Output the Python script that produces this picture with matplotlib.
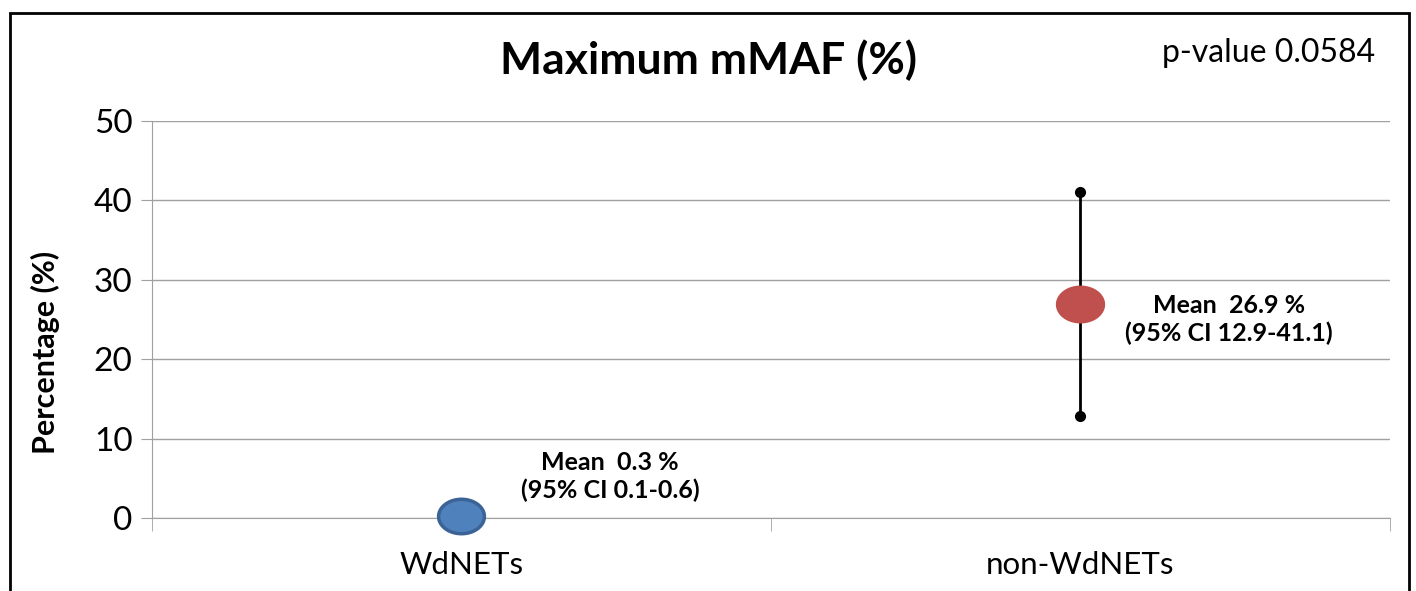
import matplotlib
matplotlib.use("Agg")
import matplotlib.pyplot as plt
import numpy as np
from matplotlib.path import Path
from matplotlib.patches import Rectangle

plt.rcParams['font.family'] = ['Lato', 'DejaVu Sans']

# data
groups = ['WdNETs', 'non-WdNETs']
means = [0.3, 26.9]
ci_low = [0.1, 12.9]
ci_high = [0.6, 41.1]
colors = ['#4f81bd', '#c0504d']
edges = ['#3b6396', '#c0504d']
notes = ['Mean  0.3 %\n(95% CI 0.1-0.6)', 'Mean  26.9 %\n(95% CI 12.9-41.1)']
pval = 'p-value 0.0584'

# ellipse marker (wider than tall)
t = np.linspace(0, 2 * np.pi, 60)
ellipse = Path(np.column_stack([1.33 * np.cos(t), np.sin(t)]), closed=True)

fig = plt.figure(figsize=(14.16, 5.91), dpi=100)
ax = fig.add_axes([0.1073, 0.1235, 0.8743, 0.6718])

xs = np.arange(1, len(groups) + 1)

for i in range(len(groups)):
    ax.vlines(xs[i], ci_low[i], ci_high[i], color='black', lw=2, zorder=3)
    ax.plot([xs[i], xs[i]], [ci_low[i], ci_high[i]], 'o', color='black',
            ms=7, zorder=3, clip_on=False)
    ax.plot(xs[i], means[i], marker=ellipse, ms=33, color=colors[i],
            mec=edges[i], mew=2.5, zorder=4, ls='none', clip_on=False)
    ax.text(xs[i] + 0.24, means[i] - 1.9 if i else 5.2, notes[i],
            ha='center', va='center', fontsize=18, fontweight='bold',
            linespacing=1.25, zorder=5)

ax.set_xlim(0.5, 2.5)
ax.set_ylim(0, 50)
ax.set_yticks(np.arange(0, 51, 10))
ax.tick_params(axis='y', labelsize=24, length=8, color='#a0a0a0', pad=6)
ax.set_xticks(xs)
ax.set_xticklabels(groups, fontsize=22.5)
ax.tick_params(axis='x', length=0, pad=24)
ax.set_xticks([0.5, 1.5, 2.5], minor=True)
ax.tick_params(axis='x', which='minor', length=9, color='#a0a0a0')

ax.grid(axis='y', color='#a0a0a0', lw=1)
ax.set_axisbelow(True)
for s in ['top', 'right']:
    ax.spines[s].set_visible(False)
for s in ['left', 'bottom']:
    ax.spines[s].set_color('#a0a0a0')

ax.set_ylabel('Percentage (%)', fontsize=22, fontweight='bold')
ax.yaxis.set_label_coords(-0.074, 0.418)

fig.text(0.5, 0.898, 'Maximum mMAF (%)', ha='center', va='center',
         fontsize=32, fontweight='bold')
fig.text(0.896, 0.91, pval, ha='center', va='center', fontsize=23)

# frame around the chart
fig.patches.append(Rectangle((10 / 1416, -0.05), 1399 / 1416, 1.05 - 13 / 591,
                             transform=fig.transFigure, fill=False,
                             ec='black', lw=2))

fig.savefig('out.png', dpi=100)
